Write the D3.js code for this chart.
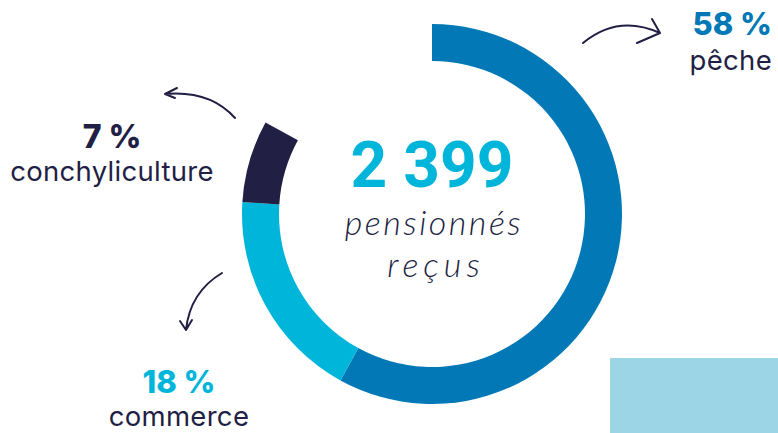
<!DOCTYPE html>
<html lang="fr">
<head>
<meta charset="utf-8">
<script src="https://cdn.jsdelivr.net/npm/d3@7"></script>
<style>
    body { margin: 0; background: #fff; }
    svg { display: block; }
    .pct { font-family: Inter, "Open Sans", sans-serif; font-weight: 800; }
    .lbl { font-family: Inter, "Open Sans", sans-serif; font-weight: 400; fill: #221f45; }
    .script { font-family: "Lato", sans-serif; font-style: italic; font-weight: 300; fill: #221f45; }
    .arrow { fill: none; stroke: #221f45; stroke-width: 2px; stroke-linecap: round; stroke-linejoin: round; }
</style>
</head>
<body>
<script>
    // données
    const categories = ['pêche', 'commerce', 'conchyliculture'];
    const values = [58, 18, 7];
    const colors = ['#0279b6', '#00b5da', '#221f45'];
    const total = 2399;

    const width = 778, height = 433;
    const svg = d3.select('body').append('svg')
        .attr('width', width).attr('height', height);

    // bloc bleu clair en bas à droite
    svg.append('rect')
        .attr('x', 610).attr('y', 358).attr('width', 168).attr('height', 75)
        .attr('fill', '#9bd5e6');

    const cx = 432, cy = 214;
    const sum = d3.sum(values);
    const pie = d3.pie().sort(null).value(d => d)
        .startAngle(0).endAngle(2 * Math.PI * sum / 100);
    const arc = d3.arc().innerRadius(153).outerRadius(190);

    const g = svg.append('g').attr('transform', `translate(${cx},${cy})`);
    g.selectAll('path')
        .data(pie(values))
        .enter().append('path')
        .attr('d', arc)
        .attr('fill', (d, i) => colors[i]);

    // centre
    svg.append('text')
        .attr('x', 432).attr('y', 187)
        .attr('text-anchor', 'middle')
        .style('font-family', 'Roboto, "Liberation Sans", sans-serif')
        .style('font-weight', 700)
        .style('font-size', '64px')
        .attr('fill', '#00b5da')
        .text(d3.format(',')(total).replace(',', ' '));

    svg.append('text').attr('class', 'script')
        .attr('x', 434).attr('y', 235).attr('text-anchor', 'middle')
        .style('font-size', '34px').style('letter-spacing', '2.5px')
        .text('pensionnés');
    svg.append('text').attr('class', 'script')
        .attr('x', 436).attr('y', 277).attr('text-anchor', 'middle')
        .style('font-size', '34px').style('letter-spacing', '5px')
        .text('reçus');

    // étiquettes
    const labels = [
        {x: 772, y: 35, yl: 70, anchor: 'end', size: 31},
        {x: 179, y: 393, yl: 426, anchor: 'middle', size: 31},
        {x: 112, y: 148, yl: 181, anchor: 'middle', size: 32}
    ];
    labels.forEach((l, i) => {
        svg.append('text').attr('class', 'pct')
            .attr('x', l.x).attr('y', l.y).attr('text-anchor', l.anchor)
            .style('font-size', l.size + 'px')
            .attr('fill', i === 2 ? '#221f45' : colors[i])
            .text(values[i] + ' %');
        svg.append('text').attr('class', 'lbl')
            .attr('x', l.x).attr('y', l.yl).attr('text-anchor', l.anchor)
            .style('font-size', '27.5px')
            .style('letter-spacing', '0.3px')
            .text(categories[i]);
    });

    // flèches
    const arrows = [
        'M583,43 Q618,14 660,33 M652,19 L660,33 L637,43',
        'M235,118 Q210,90 165,94 M177,88 L165,94 L175,98',
        'M222,273 Q190,292 186,330 M180,321 L186,330 L192,320'
    ];
    svg.selectAll('path.arrow')
        .data(arrows)
        .enter().append('path')
        .attr('class', 'arrow')
        .attr('d', d => d);
</script>
</body>
</html>
